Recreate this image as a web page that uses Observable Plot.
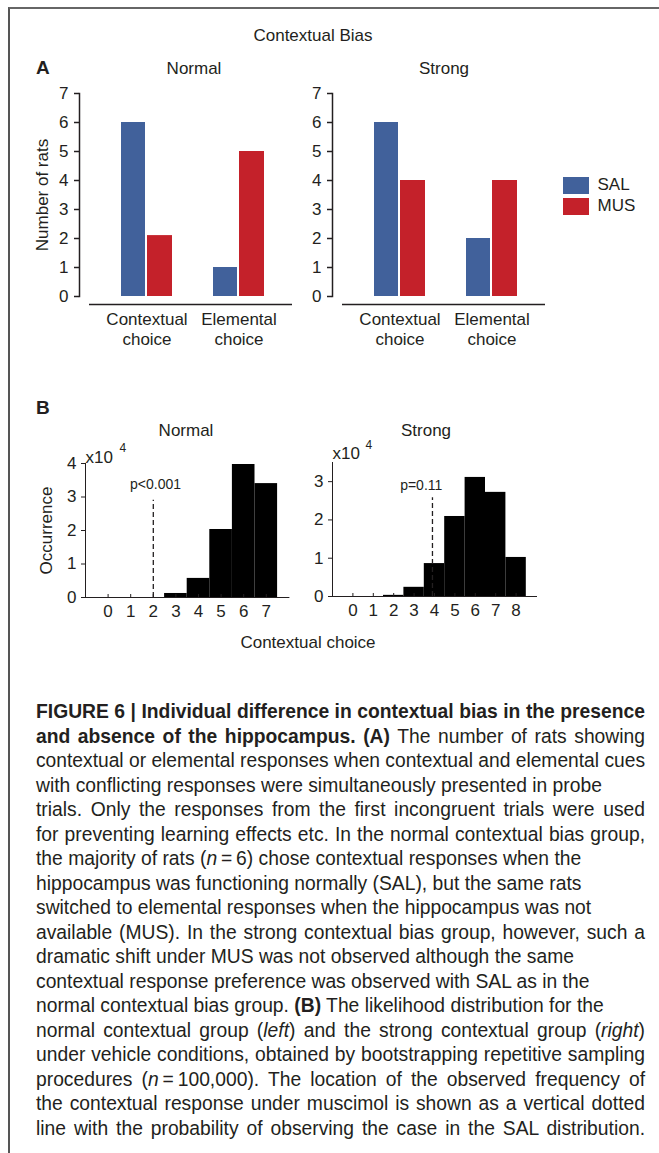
<!DOCTYPE html>
<html><head><meta charset="utf-8">
<script src="https://cdn.jsdelivr.net/npm/d3@7"></script>
<script src="https://cdn.jsdelivr.net/npm/@observablehq/plot@0.6"></script>
<style>
body{margin:0;background:#fff;}
#page{position:relative;width:659px;height:1153px;overflow:hidden;font-family:"Liberation Sans",Arial,Helvetica,sans-serif;color:#231f20;background:#fff;}
#border{position:absolute;left:8px;top:7px;right:0;bottom:0;border-top:2px solid #666;border-left:2px solid #555;}
.t{position:absolute;white-space:nowrap;line-height:20px;height:20px;font-size:17px;}
.c{transform:translateX(-50%);}
.abs{position:absolute;}
#caption{position:absolute;left:36px;top:700px;width:609px;font-size:19.3px;color:#231f20;}
#caption .ln{height:24.5px;line-height:24.5px;white-space:nowrap;}
#caption .ln span{display:inline-block;transform-origin:0 50%;}
</style></head>
<body>
<div id="page">
<div id="border"></div>
</div>
<script>
// ---------- data ----------
const choices = ["Contextual choice", "Elemental choice"];
const treatments = ["SAL", "MUS"];
const treatmentColors = ["#41619b", "#c4212a"];
const normalSAL = [6, 1];
const normalMUS = [2.1, 5];
const strongSAL = [6, 2];
const strongMUS = [4, 4];
const ratTicks = [0, 1, 2, 3, 4, 5, 6, 7];

const normalChoices = [0, 1, 2, 3, 4, 5, 6, 7];
const normalOccurrence = [0, 0, 0, 0.12, 0.57, 2.03, 3.97, 3.4];   // x10^4
const strongChoices = [0, 1, 2, 3, 4, 5, 6, 7, 8];
const strongOccurrence = [0, 0, 0.03, 0.24, 0.86, 2.09, 3.11, 2.72, 1.02]; // x10^4
const normalOccTicks = [0, 1, 2, 3, 4];
const strongOccTicks = [0, 1, 2, 3];

const pLabels = ["p<0.001", "p=0.11"];
const pLineX = [2, 3.9];
const pLineTop = [2.9, 2.58];
const pLabelX = [2.1, 3.35];
const pLabelY = [3.37, 2.9];

const titleText = "Contextual Bias";
const groupNames = ["Normal", "Strong"];
const yLabelA = "Number of rats";
const yLabelB = "Occurrence";
const xLabelB = "Contextual choice";

const captionLines = [
  ["j", "<b>FIGURE 6 | Individual difference in contextual bias in the presence</b>"],
  ["j", "<b>and absence of the hippocampus. (A)</b> The number of rats showing"],
  ["j", "contextual or elemental responses when contextual and elemental cues"],
  ["l", "with conflicting responses were simultaneously presented in probe"],
  ["j", "trials. Only the responses from the first incongruent trials were used"],
  ["j", "for preventing learning effects etc. In the normal contextual bias group,"],
  ["l", "the majority of rats (<i>n</i>&thinsp;=&thinsp;6) chose contextual responses when the"],
  ["l", "hippocampus was functioning normally (SAL), but the same rats"],
  ["l", "switched to elemental responses when the hippocampus was not"],
  ["j", "available (MUS). In the strong contextual bias group, however, such a"],
  ["l", "dramatic shift under MUS was not observed although the same"],
  ["l", "contextual response preference was observed with SAL as in the"],
  ["l", "normal contextual bias group. <b>(B)</b> The likelihood distribution for the"],
  ["j", "normal contextual group (<i>left</i>) and the strong contextual group (<i>right</i>)"],
  ["j", "under vehicle conditions, obtained by bootstrapping repetitive sampling"],
  ["j", "procedures (<i>n</i>&thinsp;=&thinsp;100,000). The location of the observed frequency of"],
  ["j", "the contextual response under muscimol is shown as a vertical dotted"],
  ["j", "line with the probability of observing the case in the SAL distribution."]
];

// ---------- helpers ----------
const FONT = '"Liberation Sans", Arial, Helvetica, sans-serif';
const INK = "#231f20";
const intFmt = d => String(d);
const page = document.getElementById("page");

function place(node, left, top) {
  const d = document.createElement("div");
  d.className = "abs";
  d.style.left = left + "px";
  d.style.top = top + "px";
  d.appendChild(node);
  page.appendChild(d);
  return d;
}
function text(str, x, cy, opts = {}) {
  const d = document.createElement("div");
  d.className = "t" + (opts.center === false ? "" : " c");
  d.style.left = x + "px";
  d.style.top = (cy - 10) + "px";
  if (opts.size) d.style.fontSize = opts.size + "px";
  if (opts.bold) d.style.fontWeight = "bold";
  d.textContent = str;
  page.appendChild(d);
}

// ---------- panel A ----------
function barPanel(sal, mus, label) {
  const rows = choices.flatMap((c, i) => [
    {choice: c, treatment: treatments[0], n: sal[i]},
    {choice: c, treatment: treatments[1], n: mus[i]}
  ]);
  return Plot.plot({
    width: 300, height: 280,
    marginLeft: 79, marginRight: 3.5, marginTop: 13, marginBottom: 64,
    style: {fontFamily: FONT, fontSize: "17px", color: INK, background: "transparent", overflow: "visible"},
    x: {domain: choices, paddingInner: 0.449, paddingOuter: 0.346, insetLeft: 10},
    y: {domain: [0, 7]},
    color: {domain: treatments, range: treatmentColors},
    marks: [
      Plot.barY(rows.filter(d => d.treatment === treatments[0]), {x: "choice", y: "n", fill: "treatment", insetRight: 27}),
      Plot.barY(rows.filter(d => d.treatment === treatments[1]), {x: "choice", y: "n", fill: "treatment", insetLeft: 26}),
      Plot.frame({anchor: "left", stroke: INK, strokeWidth: 1.5}),
      Plot.ruleY([0], {dy: 8, insetLeft: 10, insetRight: 4.5, stroke: INK, strokeWidth: 1.5}),
      Plot.axisY({ticks: ratTicks, tickFormat: intFmt, tickSize: 5, tickPadding: 6, fontSize: 17, strokeWidth: 1.5,
        label: label, labelAnchor: "center", labelOffset: 44, labelArrow: "none"}),
      Plot.axisX({tickSize: 0, tickPadding: 14, fontSize: 17, lineHeight: 1.17,
        tickFormat: d => d.replace(" ", "\n"), label: null})
    ]
  });
}
place(barPanel(normalSAL, normalMUS, yLabelA), 0, 80);
place(barPanel(strongSAL, strongMUS, null), 253, 80);

const legend = Plot.legend({
  color: {domain: treatments, range: treatmentColors},
  legend: "swatches", columns: 1, swatchWidth: 26, swatchHeight: 17,
  style: {fontSize: "17px", fontFamily: FONT, color: INK}
});
place(legend, 563, 175);

// ---------- panel B ----------
function histPanel(ks, occ, yTicks, yMax, xDomain, mLeft, mRight, mTop, mBottom, i, label, supDx, supDy, x10Dy) {
  const rows = ks.map((k, j) => ({k, n: occ[j]}));
  return Plot.plot({
    width: 300, height: 200,
    marginLeft: mLeft, marginRight: mRight, marginTop: mTop, marginBottom: mBottom,
    style: {fontFamily: FONT, fontSize: "17px", color: INK, background: "transparent", overflow: "visible"},
    x: {domain: xDomain},
    y: {domain: [0, yMax]},
    marks: [
      Plot.rectY(rows, {x1: d => d.k - 0.5, x2: d => d.k + 0.5, y: "n", fill: "#000"}),
      Plot.ruleX([pLineX[i]], {y1: 0, y2: pLineTop[i], stroke: INK, strokeWidth: 1.3, strokeDasharray: "5,3"}),
      Plot.text([pLabels[i]], {x: pLabelX[i], y: pLabelY[i], fontSize: 14, fill: INK}),
      Plot.frame({anchor: "left", stroke: INK, strokeWidth: 1}),
      Plot.frame({anchor: "bottom", stroke: INK, strokeWidth: 1}),
      Plot.axisY({ticks: yTicks, tickFormat: intFmt, tickSize: 4, tickPadding: 5, fontSize: 17,
        label: label, labelAnchor: "center", labelOffset: 46, labelArrow: "none"}),
      Plot.axisX({ticks: ks, tickFormat: intFmt, tickSize: -3, tickPadding: 10, fontSize: 17, label: null}),
      Plot.text(["x10"], {frameAnchor: "top-left", lineAnchor: "middle", textAnchor: "start", dy: x10Dy, fontSize: 17, fill: INK}),
      Plot.text(["4"], {frameAnchor: "top-left", lineAnchor: "middle", dx: supDx, dy: supDy, fontSize: 12, fill: INK})
    ]
  });
}
place(histPanel(normalChoices, normalOccurrence, normalOccTicks, 4, [-1, 8], 85, 11.6, 23, 43, 0, yLabelB, 34, -15, -6), 0, 440);
place(histPanel(strongChoices, strongOccurrence, strongOccTicks, 3.5, [-1, 9], 79, 17, 22, 44, 1, null, 33, -17, -9), 253, 440);

// ---------- texts ----------
text(titleText, 313, 36);
text("A", 36, 68, {center: false, bold: true, size: 19});
text(groupNames[0], 194, 69);
text(groupNames[1], 444, 69);
text("B", 36, 408, {center: false, bold: true, size: 19});
text(groupNames[0], 186, 431);
text(groupNames[1], 426, 431);
text(xLabelB, 308, 643);

// ---------- caption ----------
const CAP_W = 609;
const cap = document.createElement("div");
cap.id = "caption";
page.appendChild(cap);
for (const [mode, html] of captionLines) {
  const l = document.createElement("div");
  l.className = "ln";
  const s = document.createElement("span");
  s.innerHTML = html;
  l.appendChild(s);
  cap.appendChild(l);
  const w = s.getBoundingClientRect().width;
  if (w > CAP_W) {
    s.style.transform = `scaleX(${CAP_W / w})`;
  } else if (mode === "j") {
    const spaces = (s.textContent.match(/ /g) || []).length;
    if (spaces) s.style.wordSpacing = ((CAP_W - w) / spaces) + "px";
  }
}
</script>
</body></html>
